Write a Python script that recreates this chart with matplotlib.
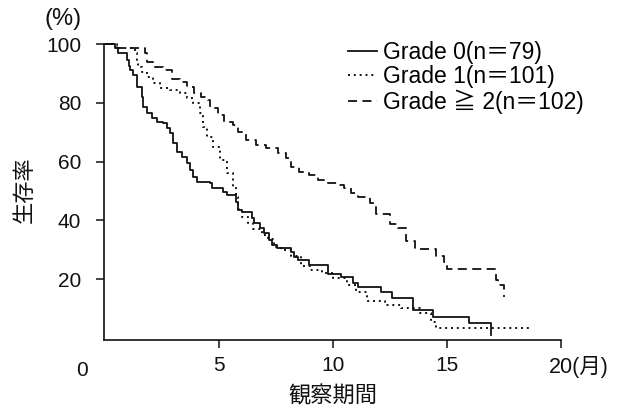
import matplotlib
matplotlib.use('Agg')
import matplotlib.pyplot as plt

plt.rcParams['font.family'] = ['Liberation Sans', 'Noto Sans CJK JP']

# survival curves (months, %)
grade0_t = [0, 0.44, 0.57, 0.97, 1.05, 1.1, 1.23, 1.41, 1.63, 1.67, 1.85, 2.07, 2.29, 2.55, 2.73, 2.86, 2.99,
            3.17, 3.39, 3.6, 3.74, 3.87, 4.05, 4.62, 4.7, 5.19, 5.36, 5.72, 5.85, 6.0, 6.46, 6.55, 6.8, 6.95,
            7.17, 7.34, 7.56, 8.14, 8.3, 8.44, 8.93, 9.76, 10.33, 10.86, 11.1, 12.1, 12.6, 13.5, 14.4, 15.96,
            16.93]
grade0_s = [100, 98.6, 96.9, 94.5, 92.5, 91.2, 89.5, 85.4, 82.0, 78.6, 76.5, 74.8, 73.5, 73.1, 71.4, 69.7, 66.3,
            63.3, 61.6, 59.5, 57.1, 54.8, 53.1, 52.7, 51.0, 49.5, 48.6, 46.3, 43.5, 42.9, 40.8, 39.1, 37.4, 35.7,
            33.3, 31.6, 30.6, 29.3, 27.5, 26.5, 24.8, 21.8, 20.7, 18.7, 17.3, 15.6, 13.6, 9.5, 7.1, 5.1,
            1.0]

grade1_t = [0, 0.5, 1.3, 1.4, 1.45, 1.63, 1.85, 2.1, 2.4, 2.86, 3.3, 3.6, 3.87, 4.18, 4.31, 4.49, 4.75, 5.06,
            5.36, 5.63, 5.72, 5.85, 6.0, 6.25, 6.5, 6.9, 7.15, 7.4, 7.7, 8.14, 8.58, 9.0, 9.5, 10.0, 10.6, 11.0,
            11.5, 12.3, 13.0, 13.8, 14.3, 14.5, 18.7]
grade1_s = [100, 98.7, 96.9, 94.6, 92.2, 90.5, 88.8, 86.7, 85.0, 84.4, 83.3, 81.6, 79.9, 76.5, 71.8, 68.4, 65.0,
            60.5, 56.1, 51.4, 48.0, 44.0, 41.0, 39.0, 37.0, 35.0, 33.5, 31.0, 30.0, 27.9, 24.5, 23.1, 22.0, 20.4,
            18.0, 15.6, 12.4, 11.2, 10.2, 8.5, 5.5, 3.4, 3.4]

grade2_t = [0, 0.5, 1.75, 1.85, 2.1, 2.55, 2.95, 3.3, 3.6, 3.9, 4.2, 4.5, 4.6, 4.97, 5.2, 5.6, 5.85, 6.2, 6.6,
            7.05, 7.6, 7.95, 8.14, 8.5, 8.93, 9.32, 9.76, 10.24, 10.5, 10.8, 11.1, 11.6, 11.9, 12.5, 12.85, 13.2,
            13.6, 14.5, 14.85, 15.0, 17.15, 17.25, 17.5]
grade2_s = [100, 98.7, 96.9, 93.9, 92.2, 91.2, 88.0, 87.0, 85.4, 83.3, 82.0, 81.0, 78.2, 75.8, 73.5, 72.4, 70.0,
            67.3, 65.6, 64.6, 62.9, 61.2, 58.0, 56.5, 55.4, 53.7, 52.7, 52.0, 51.0, 49.3, 48.0, 46.0, 42.0, 38.6,
            37.4, 33.0, 30.3, 28.0, 25.9, 23.5, 19.7, 18.0, 14.0]

labels = ['Grade 0(n＝79)', 'Grade 1(n＝101)', 'Grade ≧ 2(n＝102)']
xticks = [5, 10, 15]
yticks = [20, 40, 60, 80, 100]

fig = plt.figure(figsize=(6.33, 4.13), dpi=100)
W, H = 633, 413
ax = fig.add_axes([104 / W, 1 - 340 / H, (561 - 104) / W, (340 - 44) / H])

ink = '#111111'
ax.step(grade0_t, grade0_s, where='post', color=ink, lw=1.3, ls='-', label=labels[0], clip_on=False)
ax.step(grade1_t, grade1_s, where='post', color=ink, lw=1.4, ls=(0, (1, 2)), label=labels[1], clip_on=False)
ax.step(grade2_t, grade2_s, where='post', color=ink, lw=1.3, ls=(0, (5, 3)), label=labels[2], clip_on=False)

ax.set_xlim(-0.05, 20)
ax.set_ylim(-0.7, 100)
for s in ['top', 'right']:
    ax.spines[s].set_visible(False)
for s in ['left', 'bottom']:
    ax.spines[s].set_linewidth(1.2)
    ax.spines[s].set_color(ink)

ax.set_xticks(xticks + [20])
ax.set_xticklabels([str(v) for v in xticks] + [''])
ax.set_yticks(yticks)
ax.set_yticklabels([str(v) for v in yticks])
ax.tick_params(axis='x', length=5.5, width=1.1, pad=6, labelsize=15, colors=ink)
ax.tick_params(axis='y', length=5.5, width=1.1, pad=11, labelsize=15, colors=ink)

ax.annotate('20(月)', xy=(20, 0), xycoords=('data', 'axes fraction'), xytext=(-9, -11.5),
            textcoords='offset points', ha='left', va='top', fontsize=15.5, color=ink)

fig.text(82 / W, 1 - 370 / H, '0', ha='center', va='center', fontsize=15, color=ink)
fig.text(63 / W, 1 - 19 / H, '(%)', ha='center', va='center', fontsize=17, color=ink)
fig.text(25 / W, 1 - 190 / H, '生存率', ha='center', va='center', rotation=90, fontsize=16, color=ink)
fig.text(333 / W, 1 - 397 / H, '観察期間', ha='center', va='center', fontsize=16, color=ink)

ax.legend(loc='upper left', bbox_to_anchor=(348 / W, 1 - 41 / H), bbox_transform=fig.transFigure,
          frameon=False, fontsize=16.5, handlelength=1.25, handletextpad=0.28, labelspacing=0.05,
          borderpad=0, borderaxespad=0)

fig.savefig('out.png', dpi=100)
